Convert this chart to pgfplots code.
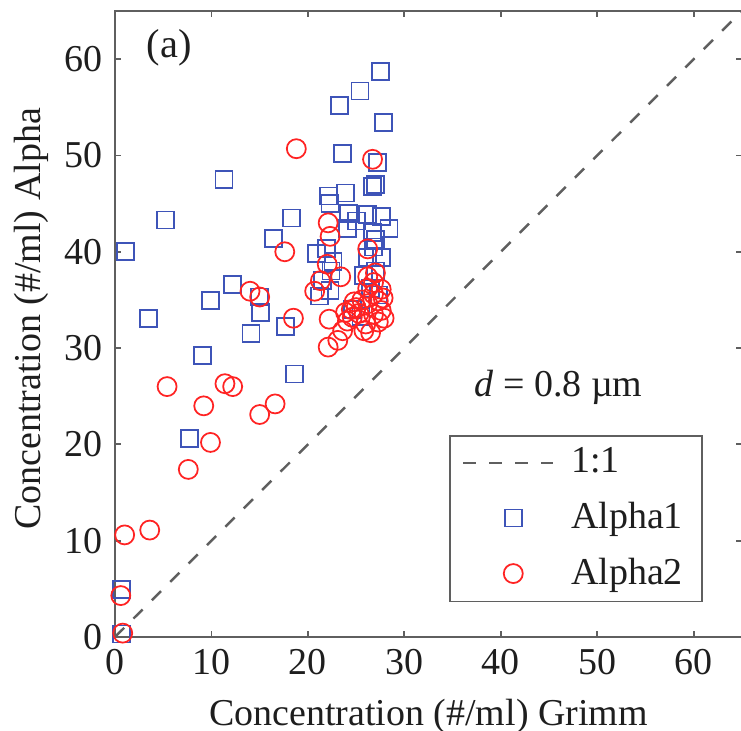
\documentclass[border=0pt]{standalone}
\usepackage{fontspec}
\setmainfont{Liberation Serif}
\usepackage{pgfplots}
\pgfplotsset{compat=1.18}

\definecolor{alphaone}{RGB}{62,84,184}
\definecolor{alphatwo}{RGB}{255,35,35}
\definecolor{axisgray}{RGB}{95,95,95}
\definecolor{txt}{RGB}{30,30,30}

\pgfplotsset{
  longline legend/.style={legend image code/.code={\draw[##1] (0mm,0mm) -- (9mm,0mm);}},
  mark legend/.style={legend image code/.code={\path (0mm,0mm) (10mm,0mm); \draw[##1] plot coordinates {(5mm,0mm)};}},
}

\begin{document}
\begin{tikzpicture}
\begin{axis}[
  scale only axis,
  width=62.7mm, height=62.6mm,
  xmin=0, xmax=65, ymin=0, ymax=65,
  xtick={0,10,...,60}, ytick={0,10,...,60},
  tick align=inside,
  major tick length=0.6mm,
  axis line style={axisgray, line width=0.6pt},
  every tick/.style={axisgray, line width=0.5pt},
  tick label style={txt},
  /pgf/number format/assume math mode=true,
  font=\fontsize{10.8}{13}\selectfont,
  xlabel={Concentration (\#/ml) Grimm},
  ylabel={Concentration (\#/ml) Alpha},
  label style={txt},
  ylabel style={yshift=-0.8mm, xshift=0.5mm},
  legend cell align=left,
  legend style={
    at={(rel axis cs:0.533,0.323)}, anchor=north west,
    draw=axisgray, line width=0.5pt,
    inner xsep=1.2mm, inner ysep=0.5mm,
    row sep=1.0mm,
    font=\fontsize{10.8}{13}\selectfont, text=txt,
  },
  clip=false,
]
% one-to-one reference line
\addplot[axisgray, line width=0.7pt, dash pattern=on 1.3mm off 1.3mm, longline legend]
  coordinates {(0,0) (65,65)};
\addlegendentry{1:1}

% Alpha1 vs Grimm
\addplot[only marks, mark=square, mark size=0.85mm, alphaone, line width=0.5pt, mark legend]
  coordinates {
  (1.1,40.0) (3.5,33.1) (5.2,43.3) (0.7,4.9) (0.7,0.3) (7.7,20.6)
  (9.1,29.2) (9.9,34.9) (11.3,47.5) (12.2,36.6) (14.1,31.5) (15.1,33.7)
  (15.0,35.3) (16.4,41.4) (18.3,43.5) (17.7,32.2) (18.6,27.3) (20.9,39.8)
  (21.2,35.4) (23.3,55.2) (23.6,50.2) (25.4,56.7) (27.5,58.7) (27.8,53.4)
  (27.2,49.3) (27.0,47.0) (22.1,45.8) (22.3,45.0) (23.9,46.1) (26.7,46.8)
  (24.2,44.0) (25.0,43.2) (26.2,43.9) (27.6,43.7) (28.4,42.4) (26.7,42.0)
  (24.1,42.4) (21.9,40.3) (22.6,39.0) (22.4,38.0) (26.2,39.4) (27.6,39.4)
  (27.0,38.0) (21.5,37.0) (22.3,36.0) (25.8,37.5) (26.5,36.2) (27.3,35.5)
  (24.6,34.0) (25.5,33.3) (26.8,40.5) (27.0,41.3)
  };
\addlegendentry{Alpha1}

% Alpha2 vs Grimm
\addplot[only marks, mark=o, mark size=0.95mm, alphatwo, line width=0.5pt, mark legend]
  coordinates {
  (1.0,10.6) (3.6,11.1) (0.6,4.3) (0.8,0.4) (5.4,26.0) (7.6,17.4)
  (9.2,24.0) (9.9,20.2) (11.4,26.3) (12.2,26.0) (15.0,23.1) (16.6,24.2)
  (14.0,35.9) (15.0,35.3) (18.5,33.1) (17.6,40.0) (18.8,50.7) (22.1,43.0)
  (22.3,41.6) (22.0,38.7) (21.3,37.0) (20.7,35.9) (22.2,33.0) (22.1,30.1)
  (23.1,30.8) (23.4,37.4) (26.7,49.6) (26.2,40.3) (26.8,36.8) (26.2,37.4)
  (23.6,31.8) (24.1,32.8) (23.9,33.7) (24.5,34.0) (25.0,34.2) (25.3,33.6)
  (25.8,31.8) (26.5,31.6) (26.8,33.5) (27.6,33.9) (27.9,33.1) (26.2,34.6)
  (27.3,34.9) (26.8,35.6) (27.6,36.1) (26.2,36.2) (24.6,33.2) (27.3,32.7)
  (25.6,35.0) (27.0,37.8) (27.8,35.2) (26.0,32.5) (24.8,34.8)
  };
\addlegendentry{Alpha2}

\node[anchor=west, text=txt, font=\fontsize{11.5}{13}\selectfont] at (axis cs:2.0,61.2) {(a)};
\node[anchor=west, text=txt, font=\fontsize{10.8}{13}\selectfont] at (axis cs:36.0,25.9) {\textit{d} = 0.8 µm};
\end{axis}
\pgfresetboundingbox
\path[use as bounding box] (-11.5mm,-9.4mm) rectangle (62.6mm,63.7mm);
\end{tikzpicture}
\end{document}
